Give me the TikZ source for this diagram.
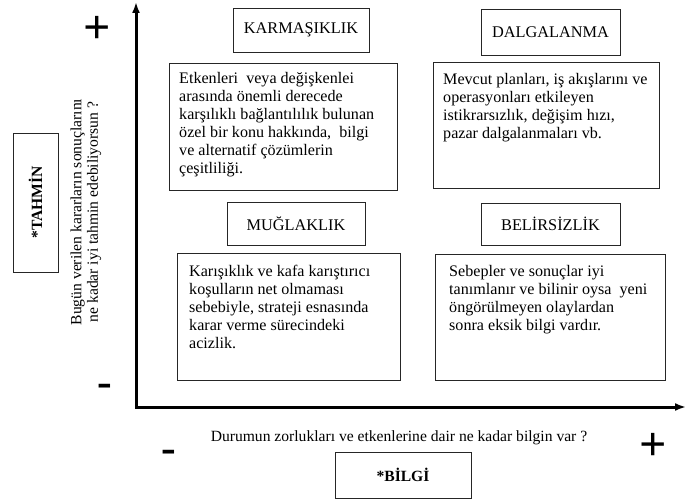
\documentclass[tikz,border=0pt]{standalone}
\usepackage{fontspec}
\setmainfont{Liberation Serif}
\usetikzlibrary{arrows.meta}
\tikzset{
  box/.style={draw=black!85, line width=0.9pt, inner sep=0pt},
  header/.style={box, font=\fontsize{16.3}{18}\selectfont},
  content/.style={inner sep=0pt, anchor=north west, align=left, font=\fontsize{16.1}{18.1}\selectfont},
  axis/.style={line width=3pt, line join=miter},
  sign/.style={inner sep=0pt},
  label/.style={inner sep=0pt, font=\fontsize{15.6}{16.5}\selectfont}
}
\begin{document}
\begin{tikzpicture}[x=1pt,y=-1pt]
\useasboundingbox (0,0) rectangle (686,500);
% axes
\coordinate (ytip) at (136,2);
\coordinate (origin) at (136,407);
\coordinate (xtip) at (686,407);
\draw[axis, {Latex[length=11pt,width=8pt]}-{Latex[length=11pt,width=8pt]}] (ytip) -- (origin) -- (xtip);
% signs
\node[sign, font=\bfseries\fontsize{48}{48}\selectfont] (ptop) at (97,30) {+};
\node[sign, font=\bfseries\fontsize{48}{48}\selectfont] (pright) at (653,447) {+};
\node[sign, font=\bfseries\fontsize{44}{44}\selectfont] (mleft) at (105,390) {-};
\node[sign, font=\bfseries\fontsize{44}{44}\selectfont] (mbottom) at (169,456) {-};
% header boxes
\node[header, minimum width=136pt, minimum height=44pt] (h1) at (301,30) {KARMAŞIKLIK};
\node[header, minimum width=139pt, minimum height=46pt] (h2) at (550.5,32) {DALGALANMA};
\node[header, minimum width=138pt, minimum height=43pt] (h3) at (296,223.5) {MUĞLAKLIK};
\node[header, minimum width=139pt, minimum height=42pt] (h4) at (550.5,224) {BELİRSİZLİK};
% content boxes
\node[box, minimum width=228pt, minimum height=127pt] (b1) at (283,126.5) {};
\node[box, minimum width=226pt, minimum height=126pt] (b2) at (546,125) {};
\node[box, minimum width=223pt, minimum height=127pt] (b3) at (288.5,316.5) {};
\node[box, minimum width=230pt, minimum height=126pt] (b4) at (550,317) {};
\node[content] (t1) at (179,72) {Etkenleri \ veya değişkenlei\\arasında önemli derecede\\karşılıklı bağlantılılık bulunan\\özel bir konu hakkında, \ bilgi\\ve alternatif çözümlerin\\çeşitliliği.};
\node[content] (t2) at (443,73) {Mevcut planları, iş akışlarını ve\\operasyonları etkileyen\\istikrarsızlık, değişim hızı,\\pazar dalgalanmaları vb.};
\node[content] (t3) at (189,265) {Karışıklık ve kafa karıştırıcı\\koşulların net olmaması\\sebebiyle, strateji esnasında\\karar verme sürecindeki\\acizlik.};
\node[content] (t4) at (449,265) {Sebepler ve sonuçlar iyi\\tanımlanır ve bilinir oysa \ yeni\\öngörülmeyen olaylardan\\sonra eksik bilgi vardır.};
% axis labels
\node[label, rotate=90, align=center] (ylab) at (86,212) {Bugün verilen kararların sonuçlarını\\ne kadar iyi tahmin edebiliyorsun ?};
\node[label] (xlab) at (399,438) {Durumun zorlukları ve etkenlerine dair ne kadar bilgin var ?};
% category boxes
\node[header, font=\bfseries\fontsize{15.6}{18}\selectfont, minimum width=45pt, minimum height=139pt] (tahmin) at (35.5,202.5) {};
\node[inner sep=0pt, rotate=90, font=\bfseries\fontsize{15.6}{18}\selectfont] (tahmintext) at (tahmin.center) {*TAHMİN};
\node[header, font=\bfseries\fontsize{15.6}{18}\selectfont, minimum width=136pt, minimum height=46pt] (bilgi) at (403,475) {*BİLGİ};
\end{tikzpicture}
\end{document}
